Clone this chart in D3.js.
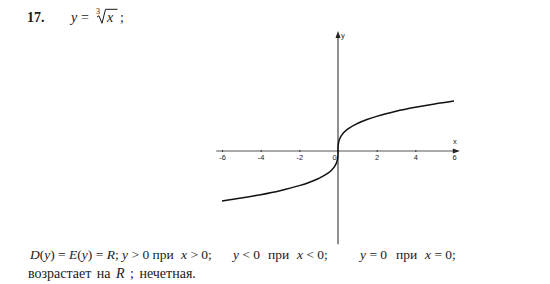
<!DOCTYPE html>
<html>
<head>
<meta charset="utf-8">
<script src="https://cdn.jsdelivr.net/npm/d3@7"></script>
<style>
  body { margin: 0; background: #fff; }
  svg { display: block; }
  text { font-family: "Liberation Serif", "DejaVu Serif", serif; fill: #1a1a1a; }
</style>
</head>
<body>
<script>
const w = 550
const h = 284

// points of y = cbrt(x)
const xs = [-6, -5, -4, -3, -2, -1.5, -1, -0.6, -0.3, -0.15, -0.06, -0.02, -0.005, -0.001, 0,
  0.001, 0.005, 0.02, 0.06, 0.15, 0.3, 0.6, 1, 1.5, 2, 3, 4, 5, 6]
const ys = [-1.817, -1.71, -1.587, -1.442, -1.26, -1.145, -1, -0.843, -0.669, -0.531, -0.391, -0.271, -0.171, -0.1, 0,
  0.1, 0.171, 0.271, 0.391, 0.531, 0.669, 0.843, 1, 1.145, 1.26, 1.442, 1.587, 1.71, 1.817]
const xTicks = [-6, -4, -2, 0, 2, 4, 6]

const points = xs.map((x, i) => ({ x: x, y: ys[i] }))

const svg = d3.select('body').append('svg')
  .attr('width', w)
  .attr('height', h)

// scales: origin at (338, 151)
const x = d3.scaleLinear().domain([-6, 6]).range([222, 454])
const y = d3.scaleLinear().domain([-1, 1]).range([151 + 27.5, 151 - 27.5])

const axisColor = '#555'
const smallFont = 'Arial, "Liberation Sans", sans-serif'

// x axis line
svg.append('line')
  .attr('x1', x(-6.3)).attr('x2', x(6.2))
  .attr('y1', y(0)).attr('y2', y(0))
  .attr('stroke', axisColor).attr('stroke-width', 1)
svg.append('path')
  .attr('d', `M${x(6.3)},${y(0)} l-7,-2.5 l0,5 z`)
  .attr('fill', '#222')

// x ticks
const xAxis = d3.axisBottom(x)
  .tickValues(xTicks)
  .tickSize(2)
  .tickPadding(3)
const gx = svg.append('g')
  .attr('transform', `translate(0,${y(0) - 1})`)
  .call(xAxis)
gx.select('.domain').remove()
gx.selectAll('.tick line').attr('stroke', '#333')
gx.selectAll('.tick text')
  .style('font-family', smallFont)
  .style('font-size', '7.5px')
  .style('fill', '#222')
  .text(d => d < 0 ? '-' + Math.abs(d) : d)
  .attr('dx', d => d === 0 ? -4 : 0)

// y axis line
svg.append('line')
  .attr('x1', x(0)).attr('x2', x(0))
  .attr('y1', y(-3.39)).attr('y2', y(4.2))
  .attr('stroke', axisColor).attr('stroke-width', 1.3)
svg.append('path')
  .attr('d', `M${x(0)},${y(4.36)} l-2.5,7 l5,0 z`)
  .attr('fill', '#222')

// axis names
svg.append('text').attr('x', x(6) - 1).attr('y', y(0) - 7)
  .style('font-family', smallFont)
  .style('font-size', '7.5px').style('fill', '#222').text('x')
svg.append('text').attr('x', x(0) + 3).attr('y', y(4.36) + 7)
  .style('font-family', smallFont)
  .style('font-size', '7.5px').style('fill', '#222').text('y')

// curve
const line = d3.line()
  .x(d => x(d.x))
  .y(d => y(d.y))
  .curve(d3.curveMonotoneX)
svg.append('path')
  .datum(points)
  .attr('d', line)
  .attr('fill', 'none')
  .attr('stroke', '#111')
  .attr('stroke-width', 1.5)

// title
svg.append('text').attr('x', 27).attr('y', 22)
  .attr('font-size', 14).attr('font-weight', 'bold').text('17.')
svg.append('text').attr('x', 71).attr('y', 22).attr('font-size', 14)
  .attr('font-style', 'italic').text('y')
svg.append('text').attr('x', 81).attr('y', 22).attr('font-size', 14).text('=')
svg.append('text').attr('x', 96).attr('y', 14).attr('font-size', 8).text('3')
// radical sign
svg.append('path')
  .attr('d', 'M97,17 l2,-1.2 l3,7.5 l3.5,-14 h12')
  .attr('fill', 'none').attr('stroke', '#1a1a1a').attr('stroke-width', 1)
svg.append('text').attr('x', 107).attr('y', 22).attr('font-size', 14)
  .attr('font-style', 'italic').text('x')
svg.append('text').attr('x', 120).attr('y', 22).attr('font-size', 14).text(';')

// bottom text, line 1
const line1 = [
  { x: 30, s: [['D', 1], ['(', 0], ['y', 1], [') = ', 0], ['E', 1], ['(', 0], ['y', 1], [') = ', 0], ['R', 1], ['; ', 0], ['y', 1], [' > 0 при', 0]] },
  { x: 181, s: [['x', 1], [' > 0;', 0]] },
  { x: 233, s: [['y', 1], [' < 0', 0]] },
  { x: 268, s: [['при', 0]] },
  { x: 297, s: [['x', 1], [' < 0;', 0]] },
  { x: 360, s: [['y', 1], [' = 0', 0]] },
  { x: 396, s: [['при', 0]] },
  { x: 425, s: [['x', 1], [' = 0;', 0]] }
]
line1.forEach(seg => {
  const tx = svg.append('text').attr('x', seg.x).attr('y', 259).attr('font-size', 13.5)
  seg.s.forEach(p => {
    tx.append('tspan').attr('font-style', p[1] ? 'italic' : 'normal').text(p[0])
  })
})

// bottom text, line 2
const t2 = svg.append('text').attr('x', 28).attr('y', 278).attr('font-size', 14)
  .attr('word-spacing', 2)
t2.append('tspan').text('возрастает на  ')
t2.append('tspan').attr('font-style', 'italic').text('R')
t2.append('tspan').text(' ; нечетная.')
</script>
</body>
</html>
